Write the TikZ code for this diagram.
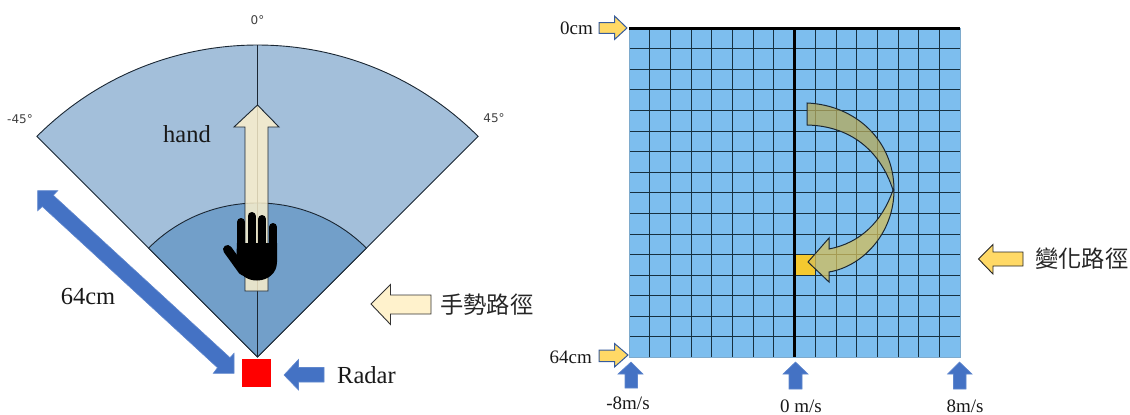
\documentclass[tikz,border=0pt]{standalone}
\usepackage{fontspec}
\setmainfont{Liberation Serif}
\newfontfamily\cjk{Noto Sans CJK TC}
\newfontfamily\labelsans{DejaVu Sans}
\definecolor{secLight}{HTML}{A3BFDA}
\definecolor{secDark}{HTML}{729FC9}
\definecolor{edgeDark}{HTML}{1B2733}
\definecolor{gridFill}{HTML}{7DBEEE}
\definecolor{gridLine}{HTML}{16303F}
\definecolor{blueArrow}{HTML}{4472C4}
\definecolor{yellowArrow}{HTML}{FFD966}
\definecolor{creamArrow}{HTML}{FFF2CC}
\definecolor{cellYellow}{HTML}{F4C92F}
\definecolor{curveUp}{HTML}{B7AA5A}
\definecolor{curveLow}{HTML}{D5BF5B}
\tikzset{
  x=1pt,y=-1pt,
  sector/.style={draw=edgeDark,line width=0.9pt,line join=miter},
  bluearrow/.style={fill=blueArrow,draw=blueArrow!85!white,line width=0.6pt},
  yellowsmall/.style={fill=yellowArrow,draw=blueArrow!80!black,line width=1pt},
  yellowbig/.style={fill=yellowArrow,draw=black!85,line width=0.9pt},
  creambig/.style={fill=creamArrow,draw=black!80,line width=0.9pt},
  lbl/.style={inner sep=0pt,font=\fontsize{24.5}{26}\selectfont,text=black!90},
  smalllbl/.style={inner sep=0pt,font=\fontsize{19}{21}\selectfont,text=black!90},
  anglbl/.style={inner sep=0pt,font=\labelsans\fontsize{12}{13}\selectfont,text=black!75},
  cjklbl/.style={inner sep=0pt,font=\cjk\fontsize{23.3}{25}\selectfont,text=black!85},
}
\begin{document}
\begin{tikzpicture}
\useasboundingbox (0,0) rectangle (1130,415);
% ---------- left: sector
\coordinate (apex) at (257.5,357);
\coordinate (outerL) at (36.9,136.4);
\coordinate (innerL) at (148.6,248.1);
\coordinate (top) at (257.5,45);
\filldraw[sector,fill=secLight] (apex) -- (outerL) arc[start angle=135,end angle=45,radius=312pt] -- cycle;
\filldraw[sector,fill=secDark] (apex) -- (innerL) arc[start angle=135,end angle=45,radius=154pt] -- cycle;
\draw[edgeDark,line width=1pt] (apex) -- (top);
% hand path arrow
\filldraw[fill=creamArrow,fill opacity=0.82,draw=edgeDark,line width=0.9pt,line join=miter]
  (257.5,105) -- (279,127) -- (268,127) -- (268,291) -- (245,291) -- (245,127) -- (234,127) -- cycle;
% hand
\begin{scope}[black,line cap=round]
  \draw[line width=8pt] (241,222) -- (241,260);
  \draw[line width=8pt] (251.5,216) -- (251.5,260);
  \draw[line width=8pt] (262,219) -- (262,260);
  \draw[line width=8pt] (273,227) -- (273,260);
  \draw[line width=9pt] (227.5,249.5) -- (243,271);
  \fill (237,243) -- (277,243) -- (277,262) .. controls (277,273) and (268,280.5) .. (257,280.5)
     .. controls (247,280.5) and (240,275) .. (236,266) -- cycle;
\end{scope}
% radar
\fill[red] (241.5,359) rectangle (271,387);
\node[lbl,anchor=west] (radar) at (337,375) {Radar};
\node[lbl,anchor=center] (hand) at (187,134) {hand};
\node[lbl,anchor=center] (dist) at (88,297) {64cm};
\node[anglbl] (a0) at (257.5,20) {0°};
\node[anglbl] (aL) at (20,119) {-45°};
\node[anglbl] (aR) at (494,118.5) {45°};
% 64cm double arrow
\filldraw[bluearrow] (37.7,190.7) -- (57.7,190.7) -- (53.3,195.3) -- (230,357.7) -- (234,353.3) -- (234,373.3) -- (213.3,373.3) -- (217.5,367.7) -- (42.3,206.5) -- (37.7,210.7) -- cycle;
% radar arrow
\filldraw[bluearrow] (284,375) -- (298.5,359.5) -- (298.5,367.5) -- (324,367.5) -- (324,382) -- (298.5,382) -- (298.5,390) -- cycle;
% cream legend arrow
\filldraw[creambig] (371,304) -- (390.5,284.5) -- (390.5,295) -- (431,295) -- (431,314) -- (390.5,314) -- (390.5,324.5) -- cycle;
\node[cjklbl,anchor=west] (gest) at (440,305) {手勢路徑};
% ---------- right: grid
\fill[gridFill] (629,28) rectangle (960,357.4);
\fill[cellYellow] (794.5,254.6) rectangle (815.2,275.2);
\foreach \i in {0,...,16} {
  \draw[gridLine,line width=0.8pt] ({629+\i*20.69},28) -- ({629+\i*20.69},357.4);
  \draw[gridLine,line width=0.8pt] (629,{28+\i*20.59}) -- (960,{28+\i*20.59});
}
\draw[gridFill!70!gray,line width=0.8pt] (629,28) rectangle (960,357.4);
\coordinate (midTop) at (794.5,28);
\coordinate (midBot) at (794.5,357.4);
\coordinate (gridTL) at (629,28);
\coordinate (gridTR) at (960,28);
\draw[black,line width=2.6pt] (midTop) -- (midBot);
\draw[black,line width=3pt] (gridTL) -- (gridTR);
% curved arrow
\fill[fill=curveUp,fill opacity=0.75]
  (807,103) .. controls (855,105) and (894,140) .. (894,190)
  .. controls (880,150) and (850,126) .. (807,125) -- cycle;
\fill[fill=curveLow,fill opacity=0.75]
  (894,190) .. controls (894,232) and (864,266) .. (829,272)
  -- (829,282) -- (808,262) -- (829,238) -- (829,249)
  .. controls (860,243) and (882,222) .. (894,190) -- cycle;
\draw[edgeDark,line width=1pt,line join=miter]
  (807,103) .. controls (855,105) and (894,140) .. (894,190)
  .. controls (894,232) and (864,266) .. (829,272)
  -- (829,282) -- (808,262) -- (829,238) -- (829,249)
  .. controls (860,243) and (882,222) .. (893,190)
  .. controls (880,150) and (850,126) .. (807,125) -- cycle;
% yellow arrows
\filldraw[yellowsmall] (627,28) -- (614.5,16) -- (614.5,22.7) -- (599,22.7) -- (599,33.3) -- (614.5,33.3) -- (614.5,39.5) -- cycle;
\filldraw[yellowsmall] (628,355) -- (614.5,343.5) -- (614.5,350) -- (599,350) -- (599,361.5) -- (614.5,361.5) -- (614.5,367) -- cycle;
\filldraw[yellowbig] (978.5,259) -- (993,244.5) -- (993,252) -- (1023,252) -- (1023,266) -- (993,266) -- (993,274) -- cycle;
% up arrows
\filldraw[bluearrow] (631,362) -- (643,374) -- (637.5,374) -- (637.5,388) -- (625,388) -- (625,374) -- (618,374) -- cycle;
\filldraw[bluearrow] (795.5,362) -- (808,374) -- (802,374) -- (802,389) -- (789,389) -- (789,374) -- (783,374) -- cycle;
\filldraw[bluearrow] (959.5,362) -- (972,374) -- (966,374) -- (966,389) -- (953.5,389) -- (953.5,374) -- (947.5,374) -- cycle;
% right labels
\node[smalllbl,anchor=east] (l0) at (593,28.5) {0cm};
\node[smalllbl,anchor=east] (l64) at (592,357.5) {64cm};
\node[smalllbl] (lm8) at (628,403) {-8m/s};
\node[smalllbl] (lz) at (801,406) {0 m/s};
\node[smalllbl] (lp8) at (965,406) {8m/s};
\node[cjklbl,anchor=west] (chg) at (1035,258.5) {變化路徑};
\end{tikzpicture}
\end{document}
